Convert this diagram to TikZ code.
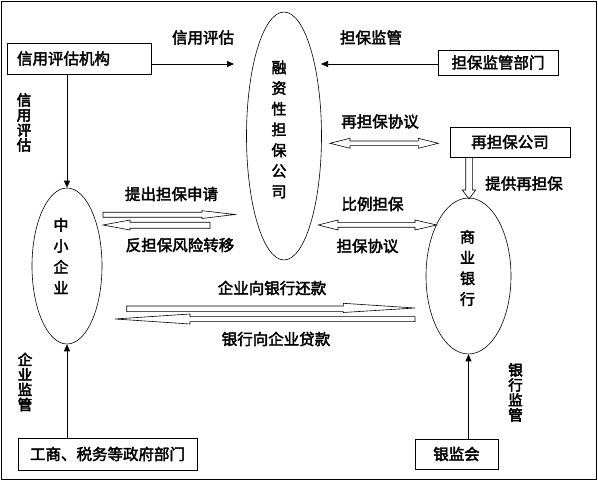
\documentclass[tikz,border=0pt]{standalone}
\usepackage{fontspec}
\newfontfamily\cjkb{Noto Sans CJK SC}[FakeBold=2.5]
\newfontfamily\cjkbb{Noto Sans CJK SC}[FakeBold=3.5]
\usetikzlibrary{arrows.meta,shapes.geometric}
\tikzset{
 boxn/.style={draw, line width=0.8pt, rectangle, inner sep=0pt, font=\cjkb\fontsize{15.5}{18}\selectfont},
 ell/.style={draw, ellipse, line width=0.6pt, inner sep=0pt},
 lab/.style={font=\cjkb\fontsize{15.5}{18}\selectfont, inner sep=0pt},
 vlab/.style={font=\cjkbb\fontsize{14.5}{15}\selectfont, align=center, inner sep=0pt},
 etext/.style={font=\cjkb\fontsize{15}{#1}\selectfont, align=center, inner sep=0pt},
 arr/.style={line width=0.7pt, -{Triangle[length=7pt,width=6pt]}},
 hollow/.style={draw, line width=0.6pt, fill=white, line join=miter},
}
\begin{document}
\begin{tikzpicture}[x=1pt,y=-1pt]
\useasboundingbox (0,0) rectangle (598,481);
\draw[line width=0.9pt] (1.5,1.5) rectangle (596.5,479.5);

% boxes
\node[boxn, minimum width=144, minimum height=31, text width=124, inner xsep=10pt, align=left] (cea) at (79,58.5) {信用评估机构};
\node[boxn, minimum width=120, minimum height=25] (dbj) at (498,62.5) {担保监管部门};
\node[boxn, minimum width=120, minimum height=30] (zdb) at (510,142) {再担保公司};
\node[boxn, minimum width=179, minimum height=32] (gov) at (107.5,454) {工商、税务等政府部门};
\node[boxn, minimum width=83, minimum height=30] (yjh) at (456.5,454) {银监会};

% ellipses
\node[ell, minimum width=75, minimum height=248] (rz) at (284,136) {};
\node[ell, minimum width=70, minimum height=156] (sme) at (67,266) {};
\node[ell, minimum width=85, minimum height=156] (bank) at (468.5,276) {};
\node[etext=20.7] (rzt) at (279,129.5) {融\\资\\性\\担\\保\\公\\司};
\node[etext=21] (smet) at (61,256) {中\\小\\企\\业};
\node[etext=20.7] (bankt) at (467.5,268) {商\\业\\银\\行};

% simple arrows
\coordinate (rzL) at (234,64);
\coordinate (rzR) at (321,64);
\draw[arr] (cea.east |- rzL) -- (rzL);
\draw[arr] (cea.south -| sme.north) -- (sme.north);
\draw[arr] (dbj.west |- rzR) -- (rzR);
\draw[arr] (gov.north -| sme.south) -- (sme.south);
\draw[arr] (yjh.north -| bank.south) -- (bank.south);

% hollow arrows
\draw[hollow] (103,212.3) -- (202,212.3) -- (202,210.7) -- (235,214.5) -- (202,218.5) -- (202,217.3) -- (103,217.3) -- cycle;
\draw[hollow] (210,222.3) -- (130,222.3) -- (130,220) -- (103,225) -- (130,230) -- (130,228.3) -- (210,228.3) -- cycle;
\draw[hollow] (330,143.3) -- (350,138.3) -- (350,141) -- (418.3,141) -- (418.3,138.3) -- (438.3,143.3) -- (418.3,148.3) -- (418.3,145.7) -- (350,145.7) -- (350,148.3) -- cycle;
\draw[hollow] (318.3,225) -- (338,220) -- (338,222.7) -- (415,222.7) -- (415,220) -- (436.7,225) -- (415,230) -- (415,227.3) -- (338,227.3) -- (338,230) -- cycle;
\draw[hollow] (126.7,306) -- (343.3,306) -- (343.3,303.3) -- (415,308) -- (343.3,312.5) -- (343.3,311.7) -- (126.7,311.7) -- cycle;
\draw[hollow] (415,316.7) -- (190,316.7) -- (190,314) -- (115,319) -- (190,324) -- (190,321.7) -- (415,321.7) -- cycle;
\draw[line width=0.6pt, line join=miter] (465.7,157) -- (465.7,190) -- (462.3,190) -- (469,199) -- (475.7,190) -- (472.3,190) -- (472.3,157);

% labels
\node[lab] (l1) at (203,37.5) {信用评估};
\node[lab] (l2) at (371,37.5) {担保监管};
\node[lab] (l3) at (380,121.5) {再担保协议};
\node[lab] (l4) at (524,183.5) {提供再担保};
\node[lab] (l5) at (372.5,204) {比例担保};
\node[lab] (l6) at (367.5,246) {担保协议};
\node[lab] (l7) at (171.5,194) {提出担保申请};
\node[lab] (l8) at (180,245) {反担保风险转移};
\node[lab] (l9) at (272,288) {企业向银行还款};
\node[lab] (l10) at (276,339) {银行向企业贷款};
\node[vlab] (v1) at (24,122.5) {信\\用\\评\\估};
\node[vlab] (v2) at (25,382) {企\\业\\监\\管};
\node[vlab] (v3) at (515.5,392.5) {银\\行\\监\\管};
\end{tikzpicture}
\end{document}
